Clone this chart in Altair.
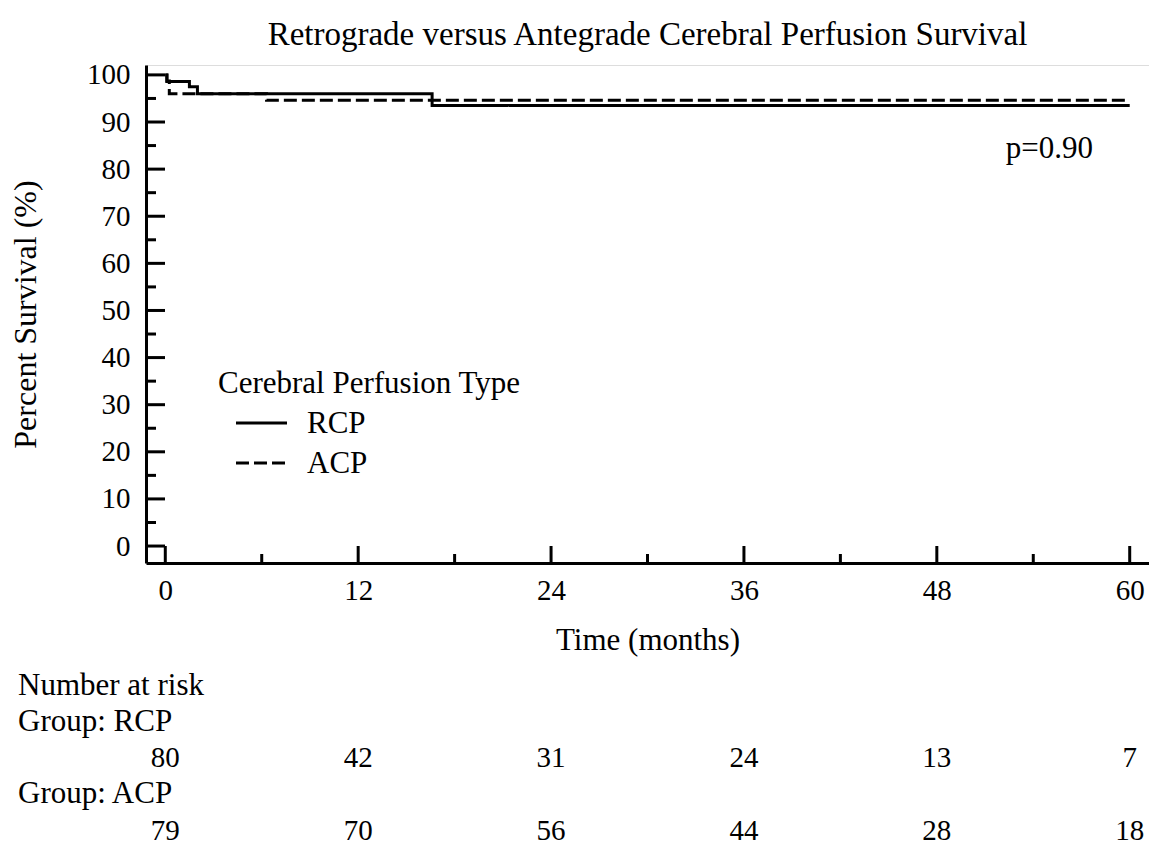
import altair as alt
import pandas as pd

# ---- data ----
rcp_time = [0, 0.1, 1.5, 2.0, 16.6, 60]
rcp_surv = [100, 98.6, 97.5, 96.0, 93.5, 93.5]
acp_time = [0, 0.1, 0.25, 6.3, 60]
acp_surv = [100, 98.7, 96.0, 94.6, 94.6]

risk_times = [0, 12, 24, 36, 48, 60]
risk_rcp = [80, 42, 31, 24, 13, 7]
risk_acp = [79, 70, 56, 44, 28, 18]

y_major = list(range(0, 101, 10))
y_minor = list(range(5, 100, 10))
x_major = [0, 12, 24, 36, 48, 60]
x_minor = [6, 18, 30, 42, 54]

groups = ["RCP", "ACP"]

FONT = "Liberation Serif"
FS_NUM = 29
FS_TXT = 31
W, H = 1003, 498

xs = alt.Scale(domain=[-1.2, 61.2], nice=False, zero=False)
ys = alt.Scale(domain=[-3.6, 102.1], nice=False, zero=False)

x_axis = alt.Axis(values=x_major, title="Time (months)", ticks=False, tickSize=0, grid=False,
                  labelPadding=13, titlePadding=20, labelFont=FONT, titleFont=FONT,
                  labelFontSize=FS_NUM, titleFontSize=FS_TXT, titleFontWeight="normal",
                  labelColor="black", titleColor="black", domainColor="black", domainWidth=3)
y_axis = alt.Axis(values=y_major, title="Percent Survival (%)", ticks=False, tickSize=0, grid=False,
                  labelPadding=16, titlePadding=44, labelFont=FONT, titleFont=FONT,
                  labelFontSize=FS_NUM, titleFontSize=32, titleFontWeight="normal",
                  labelColor="black", titleColor="black", domainColor="black", domainWidth=3)


def X():
    return alt.X("time:Q", scale=xs, axis=x_axis)


def Y():
    return alt.Y("surv:Q", scale=ys, axis=y_axis)


curves = pd.DataFrame({
    "time": rcp_time + acp_time,
    "surv": rcp_surv + acp_surv,
    "group": ["RCP"] * len(rcp_time) + ["ACP"] * len(acp_time),
})

lines = alt.Chart(curves).mark_line(interpolate="step-after", color="black", strokeWidth=3).encode(
    x=X(), y=Y(),
    strokeDash=alt.StrokeDash("group:N", scale=alt.Scale(domain=groups, range=[[1, 0], [13, 5]]), legend=None),
    detail="group:N",
)

# inward ticks
ymaj = alt.Chart(pd.DataFrame({"surv": y_major})).mark_rule(color="black", strokeWidth=3).encode(
    y=Y(), x=alt.value(0), x2=alt.value(19))
ymin = alt.Chart(pd.DataFrame({"surv": y_minor})).mark_rule(color="black", strokeWidth=3).encode(
    y=Y(), x=alt.value(0), x2=alt.value(10))
xmaj = alt.Chart(pd.DataFrame({"time": x_major})).mark_rule(color="black", strokeWidth=3).encode(
    x=X(), y=alt.value(H), y2=alt.value(H - 17))
xmin = alt.Chart(pd.DataFrame({"time": x_minor})).mark_rule(color="black", strokeWidth=3).encode(
    x=X(), y=alt.value(H), y2=alt.value(H - 9))

one = alt.Data(values=[{}])


def label(text, x, y, align="left", size=FS_TXT):
    return alt.Chart(one).mark_text(text=text, font=FONT, fontSize=size, color="black",
                                    align=align, baseline="alphabetic").encode(
        x=alt.value(x), y=alt.value(y))


title = label("Retrograde versus Antegrade Cerebral Perfusion Survival", W / 2, -20,
              align="center", size=33)

# legend
leg_title = label("Cerebral Perfusion Type", 72, 328)
leg_rcp_line = alt.Chart(one).mark_rule(color="black", strokeWidth=3).encode(
    x=alt.value(90), x2=alt.value(141), y=alt.value(358))
leg_acp_line = alt.Chart(one).mark_rule(color="black", strokeWidth=3, strokeDash=[13, 5]).encode(
    x=alt.value(90), x2=alt.value(141), y=alt.value(398))
leg_rcp = label(groups[0], 161, 368)
leg_acp = label(groups[1], 161, 408)

pval = label("p=0.90", 947, 93, align="right")

# number at risk table
row1 = label("Number at risk", -128, 630)
row2 = label("Group: RCP", -128, 666)
row4 = label("Group: ACP", -128, 738)

risk_r = alt.Chart(pd.DataFrame({"time": risk_times, "n": risk_rcp})).mark_text(
    font=FONT, fontSize=FS_NUM, color="black", align="center", baseline="alphabetic").encode(
    x=X(), y=alt.value(702), text="n:Q")
risk_a = alt.Chart(pd.DataFrame({"time": risk_times, "n": risk_acp})).mark_text(
    font=FONT, fontSize=FS_NUM, color="black", align="center", baseline="alphabetic").encode(
    x=X(), y=alt.value(775), text="n:Q")

chart = alt.layer(
    lines, ymaj, ymin, xmaj, xmin, title,
    leg_title, leg_rcp_line, leg_acp_line, leg_rcp, leg_acp, pval,
    row1, row2, row4, risk_r, risk_a,
).properties(
    width=W, height=H,
    autosize=alt.AutoSizeParams(type="none"),
    padding={"left": 138, "top": 57, "right": 0, "bottom": 290},
).configure_view(stroke=None).configure(background="white")

chart.save("out.html", embed_options={"renderer": "svg", "actions": False})
